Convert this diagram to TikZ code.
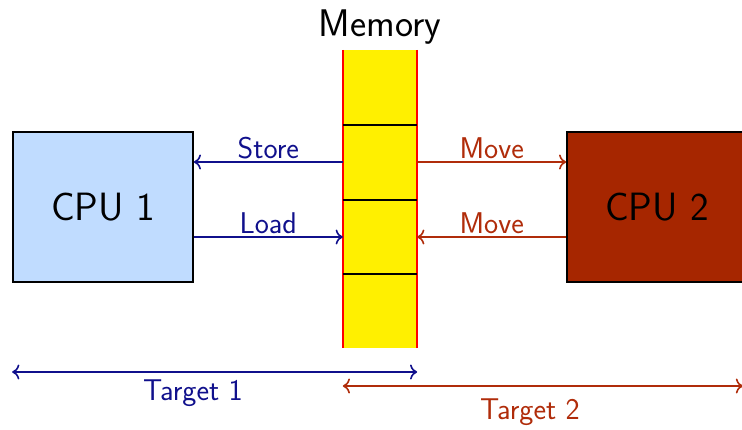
\documentclass[tikz,border=0pt]{standalone}
\usetikzlibrary{calc,arrows.meta}
\renewcommand{\familydefault}{\sfdefault}
\definecolor{cpuone}{RGB}{192,220,255}
\definecolor{cputwo}{RGB}{166,38,0}
\definecolor{navyc}{RGB}{16,16,140}
\definecolor{rustc}{RGB}{176,44,10}
\definecolor{memy}{RGB}{255,240,0}
\begin{document}
\begin{tikzpicture}[x=1pt,y=-1pt,>={To[scale=1.4]},
  cpubox/.style={draw=black,line width=1.6pt,minimum width=180pt,minimum height=150pt,inner sep=0pt,font=\fontsize{39.5}{44}\selectfont},
  lbl/.style={font=\fontsize{30}{34}\selectfont,inner sep=2pt},
  bline/.style={navyc,line width=1.6pt},
  rline/.style={rustc,line width=1.6pt}]
\useasboundingbox (0,0) rectangle (742,429);
\node[cpubox,fill=cpuone] (cpu1) at (103,207) {CPU 1};
\node[cpubox,fill=cputwo] (cpu2) at (657,207) {CPU 2};
\node[fill=memy,minimum width=74pt,minimum height=298pt,inner sep=0pt] (mem) at (380,199) {};
\draw[red,line width=1.8pt] (mem.north west) -- (mem.south west);
\draw[red,line width=1.8pt] (mem.north east) -- (mem.south east);
\foreach \yy in {125,200,274} \draw[black,line width=1.6pt] (mem.west |- 0,\yy) -- (mem.east |- 0,\yy);
\node[anchor=base,font=\fontsize{38.5}{42}\selectfont] (memlbl) at (380,36) {Memory};
\coordinate (ya) at (0,162);
\coordinate (yb) at (0,237);
\draw[bline,->] (mem.west |- ya) -- (cpu1.east |- ya) node[lbl,midway,above,text=navyc] (st) {Store};
\draw[bline,->] (cpu1.east |- yb) -- (mem.west |- yb) node[lbl,midway,above,text=navyc] (ld) {Load};
\draw[rline,->] (mem.east |- ya) -- (cpu2.west |- ya) node[lbl,midway,above,text=rustc] (mv1) {Move};
\draw[rline,->] (cpu2.west |- yb) -- (mem.east |- yb) node[lbl,midway,above,text=rustc] (mv2) {Move};
\coordinate (t1a) at (cpu1.west |- 0,372);
\coordinate (t1b) at (mem.east |- 0,372);
\draw[bline,<->] (t1a) -- (t1b);
\node[lbl,text=navyc] (t1) at (193,393) {Target 1};
\coordinate (t2a) at (mem.west |- 0,386);
\coordinate (t2b) at (743,386);
\draw[rline,<->] (t2a) -- (t2b);
\node[lbl,text=rustc] (t2) at (530,412) {Target 2};
\end{tikzpicture}
\end{document}
